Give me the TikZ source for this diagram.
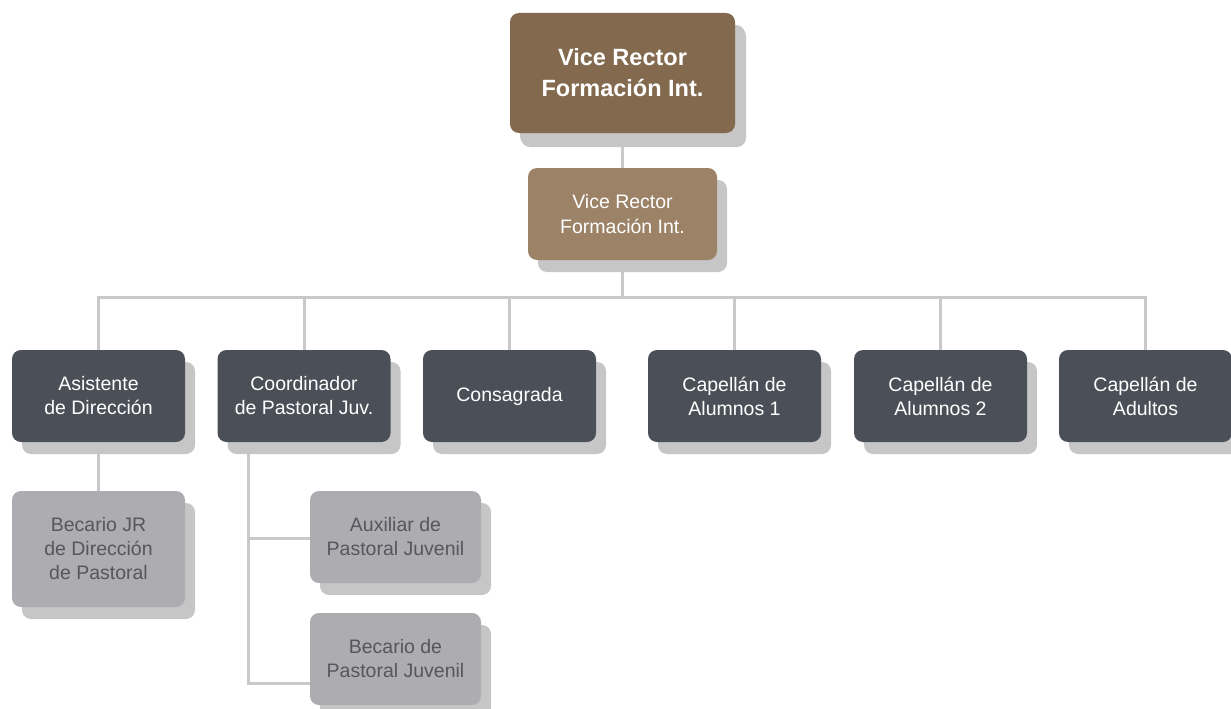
\documentclass[tikz,border=0pt]{standalone}
\usepackage{fontspec}
\setmainfont{Liberation Sans}
\usetikzlibrary{shadows}
\definecolor{topbrown}{HTML}{836A4E}
\definecolor{midbrown}{HTML}{9C8368}
\definecolor{darkbox}{HTML}{4B5058}
\definecolor{lightbox}{HTML}{ADACB0}
\definecolor{shadowgray}{HTML}{C6C6C6}
\definecolor{linegray}{HTML}{C9C9C9}
\definecolor{lighttext}{HTML}{55575D}
\tikzset{card/.style={rectangle,rounded corners=9pt,align=center,inner sep=0pt,
  drop shadow={shadow xshift=10pt,shadow yshift=-12pt,fill=shadowgray,opacity=1}}}
\tikzset{head/.style={card,fill=topbrown,text=white,minimum width=225pt,minimum height=120pt,
  font=\fontsize{23.5}{31}\selectfont\bfseries,
  drop shadow={shadow xshift=11pt,shadow yshift=-14pt,fill=shadowgray,opacity=1}}}
\tikzset{sub/.style={card,fill=midbrown,text=white,minimum width=189pt,minimum height=92pt,
  font=\fontsize{19.5}{24.5}\selectfont}}
\tikzset{post/.style={card,fill=darkbox,text=white,minimum width=173pt,minimum height=92pt,
  font=\fontsize{19.5}{24}\selectfont}}
\tikzset{aide/.style={card,fill=lightbox,text=lighttext,minimum width=173pt,minimum height=92pt,
  font=\fontsize{19.5}{24}\selectfont}}
\tikzset{link/.style={draw=linegray,line width=3pt}}
\begin{document}
\begin{tikzpicture}[x=1pt,y=-1pt]
  \useasboundingbox (0,0) rectangle (1231,709);

  % connectors first, boxes on top
  \coordinate (bar) at (622.5,297);
  \coordinate (vr1s) at (622.5,133);
  \coordinate (vr2n) at (622.5,168);
  \coordinate (vr2s) at (622.5,260);
  \coordinate (jv) at (248,442);
  \draw [link] (vr1s) -- (vr2n);
  \draw [link] (vr2s) -- (bar);
  \foreach \x in {98.5,304,509.5,734.5,940.5,1145.5}
    \draw [link] (bar) -| (\x,350);
  \draw [link] (98.5,442) -- (98.5,491);
  \draw [link] (jv) |- (310,538);
  \draw [link] (jv) |- (310,683);

  \node [head] (VR) at (622.5,73) {Vice Rector\\Formación Int.};
  \node [sub] (VF) at (622.5,214) {Vice Rector\\Formación Int.};

  \node [post] (AD) at (98.5,396) {Asistente\\de Dirección};
  \node [post] (CP) at (304,396) {Coordinador\\de Pastoral Juv.};
  \node [post] (CO) at (509.5,396) {Consagrada};
  \node [post] (C1) at (734.5,396) {Capellán de\\Alumnos 1};
  \node [post] (C2) at (940.5,396) {Capellán de\\Alumnos 2};
  \node [post] (CA) at (1145.5,396) {Capellán de\\Adultos};

  \node [aide,minimum height=116pt] (BJ) at (98.5,549) {Becario JR\\de Dirección\\de Pastoral};
  \node [aide,minimum width=171pt] (AX) at (395.5,537) {Auxiliar de\\Pastoral Juvenil};
  \node [aide,minimum width=171pt] (BP) at (395.5,659) {Becario de\\Pastoral Juvenil};
\end{tikzpicture}
\end{document}
